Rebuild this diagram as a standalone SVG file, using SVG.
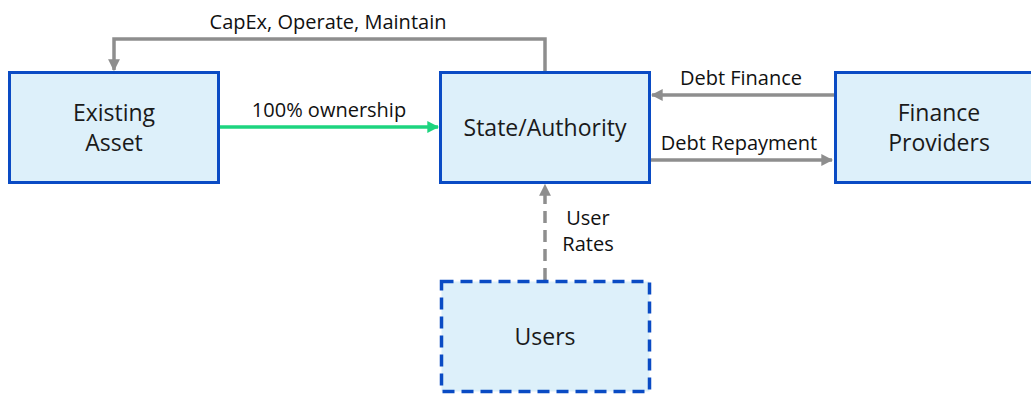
<svg xmlns="http://www.w3.org/2000/svg" width="1031" height="394" viewBox="0 0 1031 394">
  <style>
    .box { fill: #DDF0FA; stroke: #0A4BC4; stroke-width: 3; }
    .dash { stroke-dasharray: 12 7; stroke-width: 3.5; }
    .node-text { font-family: "Segoe UI", "Open Sans", "Liberation Sans", sans-serif; font-size: 23px; fill: #1a1a1a; text-anchor: middle; }
    .label { font-family: "Segoe UI", "Open Sans", "Liberation Sans", sans-serif; font-size: 20px; fill: #111; text-anchor: middle; }
    .flow { fill: none; stroke: #8E8E8E; stroke-width: 3.5; }
    .green { fill: none; stroke: #1DD47F; stroke-width: 3.5; }
  </style>
  <defs>
    <marker id="arrowGray" viewBox="0 0 10 10" refX="9" refY="5" markerWidth="3.4" markerHeight="3.4" orient="auto" markerUnits="strokeWidth">
      <path d="M0,0 L10,5 L0,10 Z" fill="#8E8E8E"/>
    </marker>
    <marker id="arrowGreen" viewBox="0 0 10 10" refX="9" refY="5" markerWidth="3.4" markerHeight="3.4" orient="auto" markerUnits="strokeWidth">
      <path d="M0,0 L10,5 L0,10 Z" fill="#1DD47F"/>
    </marker>
  </defs>

  <g id="connectors">
    <!-- State/Authority back to the existing asset -->
    <path class="flow" d="M545,72 V39 H114 V70" marker-end="url(#arrowGray)"/>
    <text class="label" x="328" y="29">CapEx, Operate, Maintain</text>
    <!-- ownership transfer -->
    <path class="green" d="M219,127 H438" marker-end="url(#arrowGreen)"/>
    <text class="label" x="329" y="117">100% ownership</text>
    <!-- finance flows -->
    <path class="flow" d="M834,95 H652" marker-end="url(#arrowGray)"/>
    <text class="label" x="741" y="85">Debt Finance</text>
    <path class="flow" d="M651,160 H832" marker-end="url(#arrowGray)"/>
    <text class="label" x="739" y="150">Debt Repayment</text>
    <!-- user payments -->
    <path class="flow" d="M545,280 V185" stroke-dasharray="12 7" marker-end="url(#arrowGray)"/>
    <text class="label" x="588" y="225">User</text>
    <text class="label" x="588" y="251">Rates</text>
  </g>

  <g id="existing-asset">
    <rect class="box" x="9.5" y="72.5" width="209" height="110"/>
    <text class="node-text" x="114" y="121">Existing</text>
    <text class="node-text" x="114" y="151">Asset</text>
  </g>

  <g id="state-authority">
    <rect class="box" x="440.5" y="72.5" width="209" height="110"/>
    <text class="node-text" x="545" y="136">State/Authority</text>
  </g>

  <g id="finance-providers">
    <rect class="box" x="835.5" y="72.5" width="209" height="110"/>
    <text class="node-text" x="939" y="121">Finance</text>
    <text class="node-text" x="939" y="151">Providers</text>
  </g>

  <g id="users">
    <rect class="box dash" x="441.5" y="281.5" width="208" height="110"/>
    <text class="node-text" x="545" y="345">Users</text>
  </g>
</svg>
